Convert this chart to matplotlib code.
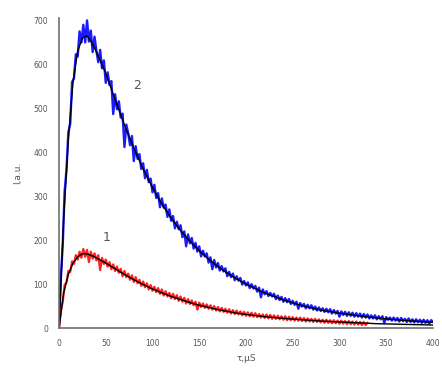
import matplotlib
matplotlib.use("Agg")
import matplotlib.pyplot as plt
import numpy as np

# Curve 2 (blue) measured intensity, sampled every 2 µs from 0 to 400 µs
blue_data = [
    0, 115, 190, 310, 360, 445, 465, 560, 568, 623,
    618, 675, 650, 690, 650, 700, 652, 677, 628, 663,
    631, 605, 633, 591, 609, 558, 582, 553, 562, 487,
    532, 498, 516, 479, 488, 412, 463, 443, 416, 437,
    380, 414, 385, 396, 362, 375, 341, 360, 332, 340,
    309, 326, 296, 307, 275, 295, 274, 281, 253, 270,
    244, 255, 227, 242, 225, 234, 207, 220, 186, 213,
    193, 205, 181, 194, 174, 186, 163, 176, 163, 170,
    149, 161, 134, 155, 138, 148, 131, 141, 129, 136,
    118, 128, 116, 124, 109, 118, 108, 114, 99, 107,
    97, 104, 91, 100, 90, 96, 83, 92, 70, 88,
    77, 84, 73, 80, 72, 78, 66, 74, 64, 71,
    60, 68, 59, 66, 55, 62, 53, 60, 44, 57,
    49, 55, 45, 53, 45, 52, 42, 49, 40, 47,
    39, 45, 37, 44, 36, 43, 33, 41, 33, 39,
    26, 38, 30, 37, 28, 36, 28, 35, 26, 34,
    26, 33, 24, 32, 24, 31, 22, 29, 22, 29,
    20, 27, 20, 27, 12, 25, 19, 24, 17, 24,
    17, 23, 15, 23, 16, 21, 14, 22, 14, 20,
    13, 20, 13, 19, 12, 19, 12, 18, 10, 18,
    15,
]

# Curve 1 (red) measured intensity, sampled every 2 µs from 0 to 330 µs
red_data = [
    0, 40, 60, 98, 104, 130, 128, 152, 146, 166,
    156, 174, 160, 180, 162, 178, 150, 174, 158, 170,
    154, 166, 132, 160, 146, 156, 140, 150, 134, 145,
    130, 140, 126, 135, 118, 130, 116, 124, 110, 120,
    105, 116, 102, 110, 96, 106, 93, 102, 88, 98,
    85, 94, 82, 91, 78, 88, 74, 84, 72, 80,
    68, 78, 66, 75, 62, 72, 60, 69, 56, 66,
    55, 63, 52, 60, 42, 58, 48, 56, 46, 54,
    44, 52, 42, 50, 40, 48, 38, 46, 37, 44,
    35, 43, 33, 41, 32, 40, 31, 38, 29, 37,
    28, 36, 27, 35, 26, 34, 25, 32, 24, 31,
    23, 31, 22, 30, 21, 29, 21, 28, 20, 27,
    19, 27, 18, 26, 18, 25, 17, 24, 17, 24,
    16, 23, 15, 22, 15, 21, 14, 21, 14, 20,
    13, 19, 12, 19, 12, 18, 11, 18, 11, 17,
    10, 17, 10, 16, 9, 16, 9, 15, 8, 15,
    8, 14, 7, 14, 7, 12,
]

t_blue = np.linspace(0, 400, len(blue_data))
t_red = np.linspace(0, 330, len(red_data))

# Fitted curves (black)
t_fit = [0, 5, 10, 15, 20, 25, 30, 35, 40, 50, 60, 70, 80, 90, 100, 110, 120,
         130, 140, 150, 160, 170, 180, 190, 200, 220, 240, 260, 280, 300, 320,
         340, 360, 380, 400]
blue_fit = [0, 250, 430, 560, 630, 660, 665, 650, 628, 580, 520, 462, 410, 362,
            320, 282, 250, 222, 198, 176, 157, 140, 125, 112, 100, 80, 64, 51,
            41, 34, 28, 23, 19, 16, 13]
red_fit = [0, 80, 122, 148, 162, 169, 169, 165, 160, 148, 135, 122, 110, 99,
           89, 80, 72, 65, 58, 52, 47, 42, 38, 34, 31, 26, 22, 19, 16, 14, 12,
           10, 9, 8, 7]

x_ticks = [0, 50, 100, 150, 200, 250, 300, 350, 400]
y_ticks = [0, 100, 200, 300, 400, 500, 600, 700]

fig = plt.figure(figsize=(4.42, 3.72), dpi=100)
ax = fig.add_axes([0.1335, 0.118, 0.846, 0.833])

ax.plot(t_blue, blue_data, color="#1a1aff", lw=1.7, solid_joinstyle="round")
ax.plot(t_red, red_data, color="#ff2020", lw=1.6, solid_joinstyle="round")
ax.plot(t_fit, blue_fit, color="black", lw=1.0)
ax.plot(t_fit, red_fit, color="black", lw=1.0)

ax.set_xlim(0, 400)
ax.set_ylim(0, 705)
ax.set_xticks(x_ticks)
ax.set_yticks(y_ticks)
ax.tick_params(length=0, labelsize=5.5, labelcolor="#555555", pad=8)
for s in ["top", "right"]:
    ax.spines[s].set_visible(False)
for s in ["left", "bottom"]:
    ax.spines[s].set_color("#707070")
    ax.spines[s].set_linewidth(1.2)

ax.set_xlabel("τ,μS", fontsize=6.5, color="#555555", labelpad=4)
ax.set_ylabel("I,a.u.", fontsize=6.5, color="#555555", labelpad=8)

ax.text(84, 552, "2", fontsize=9, color="#555555", ha="center", va="center")
ax.text(51, 207, "1", fontsize=9, color="#555555", ha="center", va="center")

fig.savefig("out.png", dpi=100)
